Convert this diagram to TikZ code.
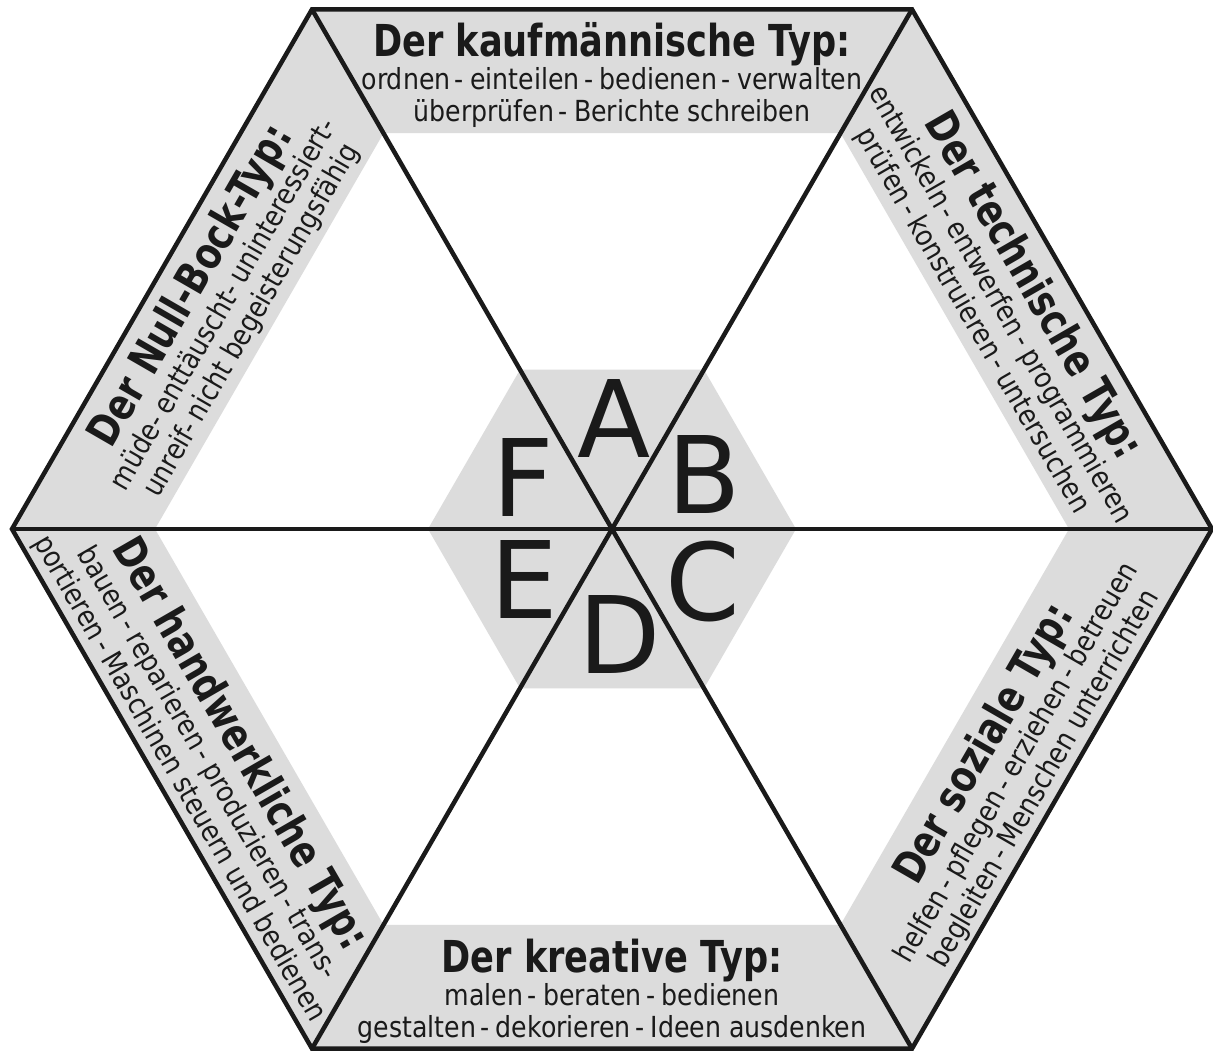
\documentclass[tikz,border=0pt]{standalone}
\usepackage{fontspec}
\setmainfont{DejaVu Sans}
\newfontfamily\bodyfont{DejaVu Sans}[FakeStretch=0.87]
\newfontfamily\titlefont{DejaVu Sans}[FakeStretch=0.80]
\newfontfamily\letterfont{DejaVu Sans}
\definecolor{bandgray}{HTML}{DCDCDC}
\definecolor{ink}{HTML}{1A1A1A}
\tikzset{
  hexline/.style={draw=ink, line width=4.5pt, line join=miter},
  titletext/.style={font=\titlefont\bfseries\fontsize{44}{48}\selectfont, text=ink, inner sep=0pt, anchor=base, transform shape},
  bodytext/.style={font=\bodyfont\fontsize{29}{32}\selectfont, text=ink, inner sep=0pt, anchor=base, transform shape},
  lettertext/.style={font=\letterfont\fontsize{107}{110}\selectfont, text=ink, inner sep=0pt}
}
\newcommand\thy{-\hspace{0.22em}}
\newcommand\tdash{\hspace{0.15em}\thy}
\newcommand\typband[7]{%
  \begin{scope}[shift={(#2,#3)},rotate=#4]
    \node[titletext] (#1-title) at (0,-15) {#5};
    \node[bodytext] (#1-one) at (0,18) {#6};
    \node[bodytext] (#1-two) at (0,50) {#7};
  \end{scope}}
\begin{document}
\begin{tikzpicture}[x=1pt,y=-1pt]
\fill[white] (0,0) rectangle (1213,1052);
\useasboundingbox (0,0) rectangle (1213,1052);
% outer hexagon
\coordinate (O) at (612,529);
\coordinate (V0) at (1212,529);
\coordinate (V1) at (912,9.4);
\coordinate (V2) at (312,9.4);
\coordinate (V3) at (12,529);
\coordinate (V4) at (312,1048.6);
\coordinate (V5) at (912,1048.6);
% inner edge of the grey ring
\coordinate (I0) at (1069,529);
\coordinate (I1) at (840.5,133.2);
\coordinate (I2) at (383.5,133.2);
\coordinate (I3) at (155,529);
\coordinate (I4) at (383.5,924.8);
\coordinate (I5) at (840.5,924.8);
% small centre hexagon
\coordinate (S0) at (796,529);
\coordinate (S1) at (704,369.7);
\coordinate (S2) at (520,369.7);
\coordinate (S3) at (428,529);
\coordinate (S4) at (520,688.3);
\coordinate (S5) at (704,688.3);

\fill[bandgray, even odd rule] (V0)--(V1)--(V2)--(V3)--(V4)--(V5)--cycle
  (I0)--(I1)--(I2)--(I3)--(I4)--(I5)--cycle;
\fill[bandgray] (S0)--(S1)--(S2)--(S3)--(S4)--(S5)--cycle;

\typband{kauf}{612}{71}{0}{Der kaufmännische Typ:}{ordnen\tdash einteilen\tdash bedienen\tdash verwalten}{überprüfen\tdash Berichte schreiben}
\typband{tech}{1008.6}{300}{-60}{Der technische Typ:}{entwickeln\tdash entwerfen\tdash programmieren}{prüfen\tdash konstruieren\tdash untersuchen}
\typband{sozial}{1008.6}{758}{60}{Der soziale Typ:}{helfen\tdash pflegen\tdash erziehen\tdash betreuen}{begleiten\tdash Menschen unterrichten}
\typband{kreativ}{612}{987}{0}{Der kreative Typ:}{malen\tdash beraten\tdash bedienen}{gestalten\tdash dekorieren\tdash Ideen ausdenken}
\typband{hand}{215.4}{758}{-60}{Der handwerkliche Typ:}{bauen\tdash reparieren\tdash produzieren\tdash trans-}{portieren\tdash Maschinen steuern und bedienen}
\typband{null}{215.4}{300}{60}{Der Null-Bock-Typ:}{müde\thy enttäuscht\thy uninteressiert-}{unreif\thy nicht begeisterungsfähig}

\draw[hexline] (V0)--(V1)--(V2)--(V3)--(V4)--(V5)--cycle;
\draw[hexline] (V0)--(V3);
\draw[hexline] (V1)--(V4);
\draw[hexline] (V2)--(V5);

\node[lettertext] (LA) at (614,418) {A};
\node[lettertext] (LB) at (704,474) {B};
\node[lettertext] (LC) at (703,582) {C};
\node[lettertext] (LD) at (620,634) {D};
\node[lettertext] (LE) at (524,579) {E};
\node[lettertext] (LF) at (523,477) {F};
\end{tikzpicture}
\end{document}
